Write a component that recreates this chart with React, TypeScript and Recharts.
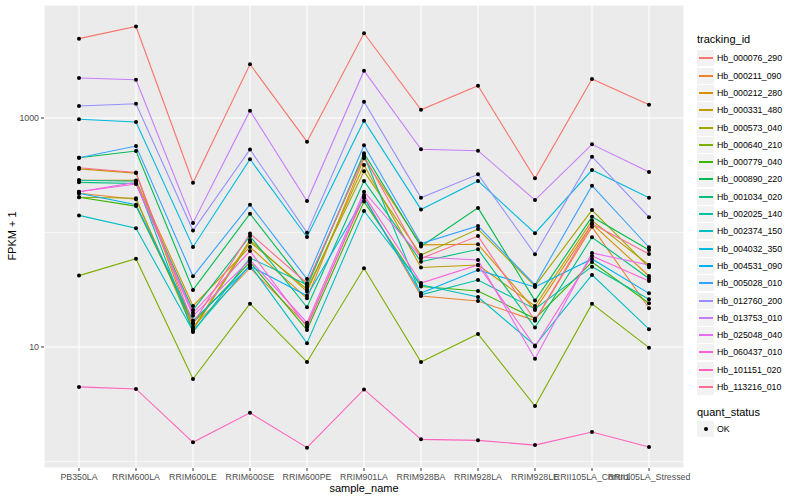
import React from 'react';
import { LineChart, Line, XAxis, YAxis, CartesianGrid, ReferenceLine } from 'recharts';

const categories = [
  'PB350LA', 'RRIM600LA', 'RRIM600LE', 'RRIM600SE', 'RRIM600PE', 'RRIM901LA',
  'RRIM928BA', 'RRIM928LA', 'RRIM928LE', 'RRII105LA_Control', 'RRII105LA_Stressed',
];

const trackingIds = [
  'Hb_000076_290', 'Hb_000211_090', 'Hb_000212_280', 'Hb_000331_480', 'Hb_000573_040',
  'Hb_000640_210', 'Hb_000779_040', 'Hb_000890_220', 'Hb_001034_020', 'Hb_002025_140',
  'Hb_002374_150', 'Hb_004032_350', 'Hb_004531_090', 'Hb_005028_010', 'Hb_012760_200',
  'Hb_013753_010', 'Hb_025048_040', 'Hb_060437_010', 'Hb_101151_020', 'Hb_113216_010',
];

// ggplot default hue palette, 20 levels
const colors = [
  '#F8766D', '#EA8331', '#D89000', '#C09B00', '#A3A500', '#7CAE00', '#39B600', '#00BB4E',
  '#00BF7D', '#00C1A3', '#00BFC4', '#00BAE0', '#00B0F6', '#35A2FF', '#9590FF', '#C77CFF',
  '#E76BF3', '#FA62DB', '#FF62BC', '#FF6C91',
];

// FPKM + 1, one value per sample
const hb000076 = [4930, 6300, 272, 2945, 621, 5500, 1180, 1914, 297, 2188, 1306];
const hb000211 = [220, 195, 15, 49, 15.5, 205, 27.9, 25.2, 17, 112, 21.8];
const hb000212 = [286, 285, 22.8, 74.7, 26.6, 444, 78, 78.9, 21, 119, 41.7];
const hb000331 = [359, 330, 14.5, 86, 30.4, 389, 49.4, 52, 22.8, 127, 52];
const hb000573 = [203, 199, 14.1, 82.6, 31.9, 342, 63.6, 107, 34, 157, 49.7];
const hb000640 = [42, 59, 5.25, 23.9, 7.4, 48.7, 7.4, 13, 3.05, 23.8, 9.86];
const hb000779 = [203, 170, 16.2, 55.2, 14.1, 186, 33.7, 30.8, 17.7, 55.2, 24.1];
const hb000890 = [450, 515, 31.5, 146, 33.6, 492, 75.5, 164, 25.4, 137, 70.3];
const hb001034 = [274, 268, 21, 93, 22.2, 282, 55.6, 71.3, 14.8, 90.8, 39.6];
const hb002025 = [286, 280, 13.5, 60, 35, 470, 28.5, 38.4, 21.5, 50.3, 26.1];
const hb002374 = [141, 109, 13.8, 52, 10.8, 154, 35, 27.3, 10.3, 42.6, 14.3];
const hb004032 = [975, 923, 74.7, 436, 91.4, 948, 159, 282, 98.5, 351, 201];
const hb004531 = [220, 175, 17, 50.9, 28, 200, 29.6, 47, 33.4, 58.7, 29.4];
const hb005028 = [450, 569, 41.4, 175, 39.3, 578, 80, 114, 34.8, 256, 74.3];
const hb012760 = [1274, 1333, 104, 530, 99.6, 1387, 201, 322, 64.6, 459, 136];
const hb013753 = [2234, 2157, 121, 1159, 188, 2588, 533, 518, 192, 589, 337];
const hb025048 = [227, 274, 18.7, 57.5, 16.3, 227, 61, 57.5, 7.9, 66.2, 52];
const hb060437 = [227, 265, 19.8, 68.9, 14.9, 213, 36.2, 52, 10.1, 62.4, 37.7];
const hb101151 = [4.48, 4.3, 1.47, 2.66, 1.32, 4.26, 1.56, 1.53, 1.39, 1.81, 1.34];
const hb113216 = [368, 334, 16, 98, 36, 466, 59.3, 93, 17, 119, 64.9];

const seriesValues = [
  hb000076, hb000211, hb000212, hb000331, hb000573, hb000640, hb000779, hb000890,
  hb001034, hb002025, hb002374, hb004032, hb004531, hb005028, hb012760, hb013753,
  hb025048, hb060437, hb101151, hb113216,
];

const yTicks = [10, 1000];
const yMinor = [1, 100];

const data = categories.map((name, i) => {
  const row: Record<string, string | number> = { sample_name: name };
  trackingIds.forEach((id, k) => {
    row[id] = seriesValues[k][i];
  });
  return row;
});

const FONT = '"Liberation Sans", Arial, Helvetica, sans-serif';

const Legend = () => {
  const rowTop = 58.3;
  const step = 17.3;
  return (
    <>
      <div style={{ position: 'absolute', left: 697, top: 32, fontSize: 11, lineHeight: '14px', color: '#000' }}>
        tracking_id
      </div>
      {trackingIds.map((id, k) => {
        const cy = Math.round(rowTop + step * k);
        return (
          <React.Fragment key={id}>
            <div style={{ position: 'absolute', left: 697, top: cy - 8, width: 17, height: 16, background: '#F2F2F2' }}>
              <div style={{ position: 'absolute', left: 1.5, right: 1.5, top: 7, height: 1.5, background: colors[k] }} />
            </div>
            <div style={{ position: 'absolute', left: 717, top: cy - 6, fontSize: 8.8, lineHeight: '12px', color: '#000' }}>
              {id}
            </div>
          </React.Fragment>
        );
      })}
      <div style={{ position: 'absolute', left: 697, top: 405, fontSize: 11, lineHeight: '14px', color: '#000' }}>
        quant_status
      </div>
      <div style={{ position: 'absolute', left: 697, top: 421, width: 17, height: 16, background: '#F2F2F2' }}>
        <div style={{ position: 'absolute', left: 6.5, top: 6, width: 4, height: 4, borderRadius: 2, background: '#000' }} />
      </div>
      <div style={{ position: 'absolute', left: 717, top: 423, fontSize: 8.8, lineHeight: '12px', color: '#000' }}>
        OK
      </div>
    </>
  );
};

export default function App() {
  return (
    <div style={{ position: 'absolute', left: 0, top: 0, width: 800, height: 500, background: '#fff', fontFamily: FONT }}>
      <LineChart
        width={800}
        height={500}
        data={data}
        margin={{ top: 5, right: 116, bottom: 12, left: 0 }}
      >
        <CartesianGrid fill="#EBEBEB" stroke="#FFFFFF" strokeWidth={1.1} />
        {yMinor.map((v) => (
          <ReferenceLine key={v} y={v} stroke="#FFFFFF" strokeWidth={0.55} />
        ))}
        <XAxis
          dataKey="sample_name"
          type="category"
          interval={0}
          padding={{ left: 35, right: 35 }}
          height={20}
          axisLine={false}
          tickSize={3}
          tickMargin={3}
          tickLine={{ stroke: '#333333' }}
          tick={{ fill: '#4D4D4D', fontSize: 8.8, fontFamily: FONT }}
        />
        <YAxis
          type="number"
          scale="log"
          domain={[0.877, 9700]}
          allowDataOverflow
          ticks={yTicks}
          width={44}
          axisLine={false}
          tickSize={3}
          tickMargin={2}
          tickLine={{ stroke: '#333333' }}
          tick={{ fill: '#4D4D4D', fontSize: 8.8, fontFamily: FONT }}
        />
        {trackingIds.map((id, k) => (
          <Line
            key={id}
            dataKey={id}
            type="linear"
            stroke={colors[k]}
            strokeWidth={1.1}
            dot={false}
            activeDot={false}
            isAnimationActive={false}
          />
        ))}
        {trackingIds.map((id) => (
          <Line
            key={id + '_pt'}
            dataKey={id}
            type="linear"
            stroke="none"
            dot={{ r: 2, fill: '#000000', stroke: '#000000', strokeWidth: 0 }}
            activeDot={false}
            isAnimationActive={false}
          />
        ))}
      </LineChart>
      <div style={{ position: 'absolute', left: 12 - 50, top: 236 - 7, width: 100, textAlign: 'center', fontSize: 11, lineHeight: '14px', transform: 'rotate(-90deg)' }}>
        FPKM + 1
      </div>
      <div style={{ position: 'absolute', left: 314, top: 481, width: 100, textAlign: 'center', fontSize: 11, lineHeight: '14px' }}>
        sample_name
      </div>
      <Legend />
    </div>
  );
}
